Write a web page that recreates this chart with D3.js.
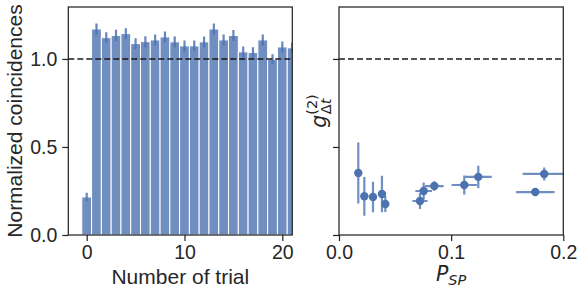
<!DOCTYPE html>
<html><head><meta charset="utf-8">
<script src="https://cdn.jsdelivr.net/npm/d3@7"></script>
<style>body{margin:0;background:#fff}svg{display:block}</style>
</head><body>
<svg id="c" width="584" height="296"></svg>
<script>
// ---- data ----
const trials = [0,1,2,3,4,5,6,7,8,9,10,11,12,13,14,15,16,17,18,19,20,21];
const coincidences = [0.216,1.170,1.121,1.133,1.144,1.087,1.098,1.108,1.125,1.097,1.074,1.074,1.097,1.170,1.108,1.133,1.040,1.036,1.108,0.998,1.068,1.063];
const coincErr = [0.024,0.031,0.031,0.033,0.031,0.031,0.031,0.031,0.031,0.031,0.031,0.031,0.031,0.031,0.031,0.031,0.031,0.031,0.031,0.028,0.031,0.031];
const psp = [0.0172,0.0226,0.0303,0.0383,0.0413,0.0722,0.0755,0.0850,0.1117,0.1242,0.1750,0.1830];
const pspErr = [0.0005,0.0005,0.0005,0.0036,0.0030,0.0068,0.0074,0.0083,0.0113,0.0120,0.0172,0.0192];
const g2 = [0.352,0.220,0.216,0.233,0.176,0.193,0.250,0.278,0.284,0.330,0.244,0.347];
const g2Err = [0.173,0.110,0.087,0.104,0.045,0.045,0.048,0.027,0.054,0.064,0.008,0.037];
const yTicks = [0,0.5,1.0];
const xTicksL = [0,10,20];
const xTicksR = [0,0.1,0.2];

const svg = d3.select('#c');
const yTop = 7, yBot = 235;
const L = {x0:68.3, x1:292.3}, R = {x0:339, x1:563.3};
const blue = '#4c72b0', axisCol = '#262626';
const tickFont = 'Liberation Sans, Arial, sans-serif';

const y = d3.scaleLinear().domain([0,1.295]).range([yBot,yTop]);
const xL = d3.scaleLinear().domain([-1.88,21.02]).range([L.x0,L.x1]);
const xR = d3.scaleLinear().domain([0,0.2]).range([R.x0,R.x1]);

const defs = svg.append('defs');
defs.append('clipPath').attr('id','clipL').append('rect').attr('x',L.x0).attr('y',yTop).attr('width',L.x1-L.x0).attr('height',yBot-yTop);
defs.append('clipPath').attr('id','clipR').append('rect').attr('x',R.x0).attr('y',yTop).attr('width',R.x1-R.x0).attr('height',yBot-yTop);

// ---- left panel ----
const gL = svg.append('g').attr('clip-path','url(#clipL)');
const bw = xL(1)-xL(0);
gL.selectAll('rect.bar').data(trials).enter().append('rect')
  .attr('x',d=>xL(d)-bw/2).attr('width',bw)
  .attr('y',(d,i)=>y(coincidences[i])).attr('height',(d,i)=>y(0)-y(coincidences[i]))
  .attr('fill',blue).attr('fill-opacity',0.8).attr('stroke','#fff').attr('stroke-width',1);
gL.selectAll('line.err').data(trials).enter().append('line')
  .attr('x1',d=>xL(d)).attr('x2',d=>xL(d))
  .attr('y1',(d,i)=>y(coincidences[i]-coincErr[i])).attr('y2',(d,i)=>y(coincidences[i]+coincErr[i]))
  .attr('stroke',blue).attr('stroke-opacity',0.85).attr('stroke-width',2.2);
gL.append('line').attr('x1',L.x0).attr('x2',L.x1).attr('y1',y(1)).attr('y2',y(1))
  .attr('stroke','#1a1a1a').attr('stroke-width',1.6).attr('stroke-dasharray','6,3');

// ---- right panel ----
const gR = svg.append('g').attr('clip-path','url(#clipR)');
gR.append('line').attr('x1',R.x0).attr('x2',R.x1).attr('y1',y(1)).attr('y2',y(1))
  .attr('stroke','#1a1a1a').attr('stroke-width',1.6).attr('stroke-dasharray','6,3');
const errCol = '#6f8fc0';
gR.selectAll('line.ye').data(psp).enter().append('line')
  .attr('x1',d=>xR(d)).attr('x2',d=>xR(d))
  .attr('y1',(d,i)=>y(g2[i]-g2Err[i])).attr('y2',(d,i)=>y(g2[i]+g2Err[i]))
  .attr('stroke',errCol).attr('stroke-width',2.2);
gR.selectAll('line.xe').data(psp).enter().append('line')
  .attr('x1',(d,i)=>xR(d-pspErr[i])).attr('x2',(d,i)=>xR(d+pspErr[i]))
  .attr('y1',(d,i)=>y(g2[i])).attr('y2',(d,i)=>y(g2[i]))
  .attr('stroke',errCol).attr('stroke-width',2.2);
gR.selectAll('circle').data(psp).enter().append('circle')
  .attr('cx',d=>xR(d)).attr('cy',(d,i)=>y(g2[i])).attr('r',4.2).attr('fill',blue);

// ---- axes ----
function frame(P){
  svg.append('rect').attr('x',P.x0).attr('y',yTop).attr('width',P.x1-P.x0).attr('height',yBot-yTop)
    .attr('fill','none').attr('stroke',axisCol).attr('stroke-width',1.25);
}
frame(L); frame(R);

function styleAxis(g){
  g.select('.domain').remove();
  g.selectAll('.tick line').attr('stroke',axisCol).attr('stroke-width',1.25);
  g.selectAll('.tick text').attr('fill',axisCol).style('font-family',tickFont).style('font-size','19.5px');
}
const axLy = svg.append('g').attr('transform',`translate(${L.x0},0)`)
  .call(d3.axisLeft(y).tickValues(yTicks).tickFormat(d3.format('.1f')).tickSize(6).tickPadding(5));
styleAxis(axLy);
const axRy = svg.append('g').attr('transform',`translate(${R.x0},0)`)
  .call(d3.axisLeft(y).tickValues(yTicks).tickFormat('').tickSize(6));
styleAxis(axRy);
const axLx = svg.append('g').attr('transform',`translate(0,${yBot})`)
  .call(d3.axisBottom(xL).tickValues(xTicksL).tickFormat(d3.format('d')).tickSize(6).tickPadding(4));
styleAxis(axLx);
const axRx = svg.append('g').attr('transform',`translate(0,${yBot})`)
  .call(d3.axisBottom(xR).tickValues(xTicksR).tickFormat(d3.format('.1f')).tickSize(6).tickPadding(4));
styleAxis(axRx);

// ---- labels ----
const labFont = 'Liberation Sans, Arial, sans-serif';
svg.append('text').attr('x',(L.x0+L.x1)/2).attr('y',284).attr('text-anchor','middle')
  .style('font-family',labFont).style('font-size','21px').attr('fill',axisCol).text('Number of trial');
svg.append('text').attr('transform',`translate(22,${(yTop+yBot)/2}) rotate(-90)`).attr('text-anchor','middle')
  .style('font-family',labFont).style('font-size','21px').attr('fill',axisCol).text('Normalized coincidences');

const mathFont = 'DejaVu Sans, sans-serif';
const px = svg.append('text').attr('x',(R.x0+R.x1)/2).attr('y',281).attr('text-anchor','middle')
  .style('font-family',mathFont).style('font-size','20.5px').attr('fill',axisCol);
px.append('tspan').style('font-style','italic').text('P');
px.append('tspan').style('font-style','italic').style('font-size','14.5px').attr('dy',4).text('SP');

const gy = svg.append('text').attr('transform',`translate(326,${(yTop+yBot)/2-10}) rotate(-90)`).attr('text-anchor','middle')
  .style('font-family',mathFont).style('font-size','20.5px').attr('fill',axisCol);
gy.append('tspan').style('font-style','italic').text('g');
gy.append('tspan').style('font-size','14.5px').attr('dy',-9).text('(2)');
gy.append('tspan').style('font-size','14.5px').attr('dx',-20).attr('dy',14).text('Δ');
gy.append('tspan').style('font-size','14.5px').style('font-style','italic').text('t');
</script>
</body></html>
